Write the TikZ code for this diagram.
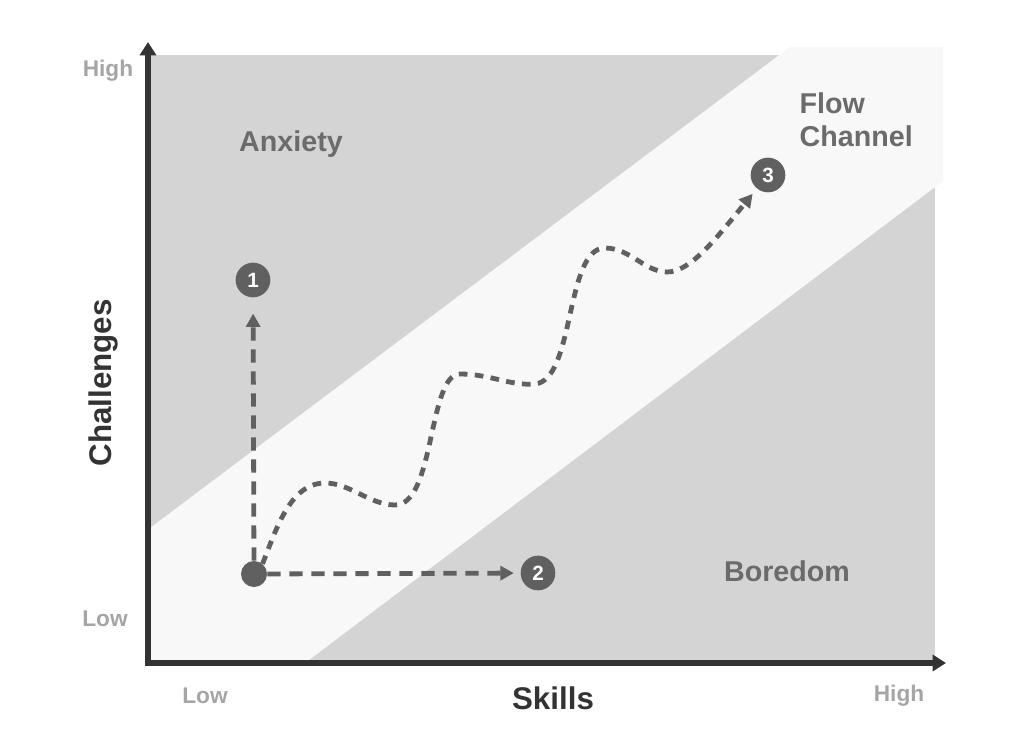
\documentclass[tikz,border=0pt]{standalone}
\usepackage{fontspec}
\setmainfont{Liberation Sans}
\usetikzlibrary{arrows.meta}
\definecolor{zoneGray}{RGB}{212,212,212}
\definecolor{flowWhite}{RGB}{248,248,248}
\definecolor{axisDark}{RGB}{51,51,51}
\definecolor{markGray}{RGB}{96,96,96}
\definecolor{labelGray}{RGB}{107,107,107}
\definecolor{tickGray}{RGB}{165,165,165}

\begin{document}
\begin{tikzpicture}[x=0.75pt,y=0.75pt,yscale=-1,xscale=1,
  zone/.style={font=\bfseries\fontsize{21.5}{24.75}\selectfont, text=labelGray},
  tick/.style={font=\bfseries\fontsize{17}{20}\selectfont, text=tickGray},
  axislabel/.style={font=\bfseries\fontsize{23.5}{28}\selectfont, text=axisDark},
  marker/.style={circle, fill=markGray, text=white, inner sep=0pt, minimum size=26pt, font=\bfseries\fontsize{15.5}{15.5}\selectfont},
  move/.style={draw=markGray, line width=3.6pt, dash pattern=on 10pt off 6.5pt, -{Triangle[length=10pt,width=10.5pt]}},
  axis/.style={draw=axisDark, line width=3.8pt, {Triangle[length=10pt,width=12pt]}-{Triangle[length=10pt,width=12pt]}}]
\path[use as bounding box] (0,0) rectangle (1024,742);

% Shape: Rectangle
\fill[zoneGray] (150,55) rectangle (935,663);
% Shape: Polygon
\fill[flowWhite] (150,528) -- (790,47) -- (943,47) -- (943,181) -- (305,663) -- (150,663) -- cycle;

% Axes
\coordinate (origin) at (148,663);
\coordinate (ytop) at (148,42);
\coordinate (xend) at (946,663);
\draw[axis] (ytop) -- (origin) -- (xend);

% Text Node
\node[zone] (anxiety) at (291,144) {Anxiety};
% Text Node
\node[zone, align=left, anchor=west] (flow) at (795,120) {Flow\\Channel};
% Text Node
\node[zone] (boredom) at (787,571) {Boredom};
% Text Node
\node[tick] (yhigh) at (108,71) {High};
\node[tick] (ylow) at (105,619) {Low};
\node[tick] (xlow) at (205,696) {Low};
\node[tick] (xhigh) at (899,696) {High};
% Text Node
\node[axislabel] (skills) at (553,698) {Skills};
\node[axislabel, rotate=90] (challenges) at (103,383) {Challenges};

% Markers
\node[circle, fill=markGray, minimum size=19.5pt, inner sep=0pt] (start) at (254,574) {};
\node[marker] (one) at (253,280) {1};
\node[marker] (two) at (538,573) {2};
\node[marker] (three) at (768,175) {3};

% Connection
\draw[move, shorten >=12pt] (start) -- (one);
% Connection
\draw[move, shorten >=5pt] (start) -- (two);
% Connection
\draw[move, dash pattern=on 6.5pt off 5.5pt, shorten >=5pt] (start.50) .. controls (276,530) and (290,483) .. (325,483) .. controls (350,483) and (370,505) .. (395,505) .. controls (435,505) and (428,374) .. (460,374) .. controls (490,374) and (510,386) .. (535,384) .. controls (575,380) and (565,248) .. (605,248) .. controls (630,248) and (645,272) .. (667,272) .. controls (690,272) and (715,240) .. (three);

\end{tikzpicture}
\end{document}
